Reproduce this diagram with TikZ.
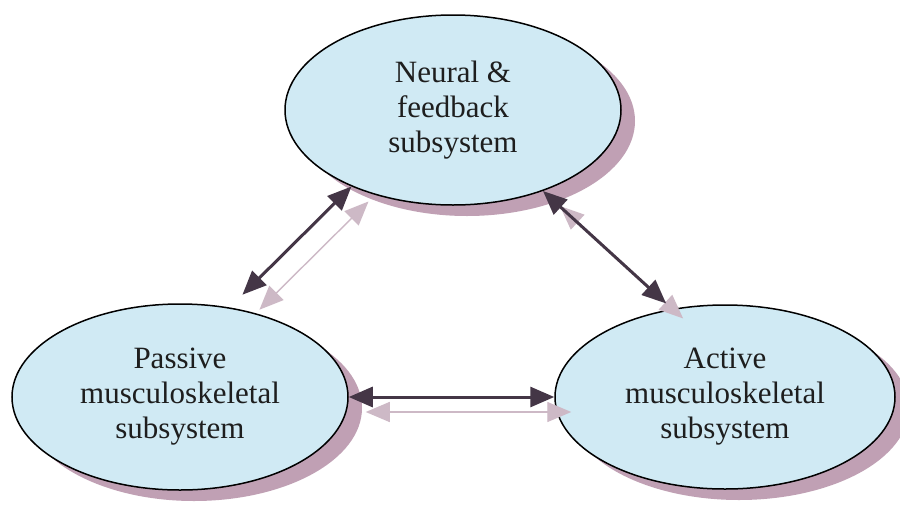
\documentclass[tikz,border=0pt]{standalone}
\usepackage{fontspec}
\setmainfont{Liberation Serif}
\usetikzlibrary{shapes.geometric,arrows.meta,shadows}
\definecolor{ellfill}{RGB}{208,234,244}
\definecolor{shadc}{RGB}{192,160,180}
\definecolor{darkarr}{RGB}{68,54,70}
\definecolor{lightarr}{RGB}{205,185,198}
\definecolor{txt}{RGB}{30,30,30}
\begin{document}
\begin{tikzpicture}[x=1pt,y=-1pt,
  sub/.style={ellipse, draw=black, line width=1.5pt, fill=ellfill, inner sep=0pt,
    align=center, text=txt, font=\fontsize{31}{35}\selectfont,
    drop shadow={shadow xshift=14pt, shadow yshift=-11pt, fill=shadc, opacity=1}},
  link/.style={draw=darkarr, line width=3pt,
    {Triangle[length=24pt,width=20pt]}-{Triangle[length=24pt,width=20pt]}},
  linkshadow/.style={draw=lightarr, line width=1.4pt,
    {Triangle[length=24pt,width=20pt]}-{Triangle[length=24pt,width=20pt]},
    transform canvas={xshift=17pt,yshift=-15pt}}]
\useasboundingbox (0,0) rectangle (900,504);
\fill[white] (0,0) rectangle (900,504);

\node[sub, minimum width=336pt, minimum height=190pt] (neural) at (453,110) {Neural \&\\feedback\\subsystem};
\node[sub, minimum width=336pt, minimum height=186pt] (passive) at (180,397) {Passive\\musculoskeletal\\subsystem};
\node[sub, minimum width=340pt, minimum height=184pt] (active) at (725,397) {Active\\musculoskeletal\\subsystem};

% shadow arrows
\draw[linkshadow, shorten >=18pt] (neural.217) -- (passive.61);
\draw[linkshadow, shorten >=8pt] (neural.318) -- (active.121);
\draw[linkshadow] (passive.east) -- (active.west);

% main arrows
\draw[link, shorten >=18pt] (neural.217) -- (passive.61);
\draw[link, shorten >=8pt] (neural.318) -- (active.121);
\draw[link] (passive.east) -- (active.west);
\end{tikzpicture}
\end{document}
